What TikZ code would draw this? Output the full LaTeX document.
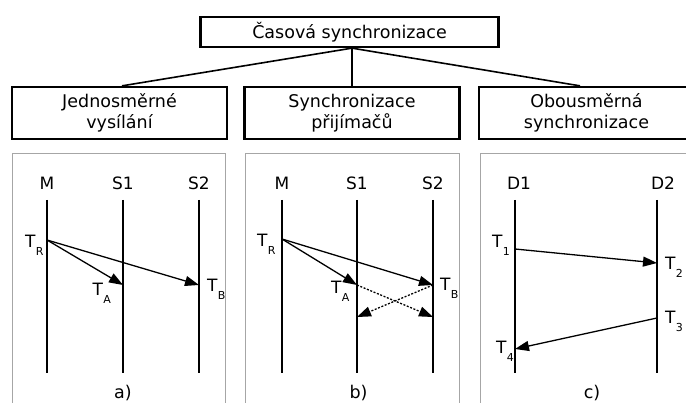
\documentclass[tikz,border=0pt]{standalone}
\usepackage{fontspec}
\setmainfont{DejaVu Sans}
\usetikzlibrary{arrows.meta,calc}
% time stamp: T with a low, small index
\newcommand\tstamp[1]{T\kern0.2pt\raisebox{-8pt}{\fontsize{11}{11}\selectfont #1}}

\begin{document}
\begin{tikzpicture}[x=1pt,y=-1pt,
  catbox/.style={draw, line width=2.3pt, minimum width=215pt, minimum height=52pt,
    inner sep=0pt, align=center, font=\fontsize{17.5}{21}\selectfont},
  rootbox/.style={catbox, minimum width=298pt, minimum height=30pt},
  tree/.style={line width=1.6pt},
  panel/.style={draw=black!35, line width=1pt},
  life/.style={line width=2pt},
  msg/.style={line width=1.3pt, -{Triangle[length=14pt,width=10pt]}},
  echo/.style={msg, dash pattern=on 2pt off 1.6pt},
  actor/.style={inner sep=0pt, font=\fontsize{17}{17}\selectfont},
  stamp/.style={inner sep=0pt, anchor=base west, font=\fontsize{17}{17}\selectfont},
  caption/.style={inner sep=0pt, font=\fontsize{17.5}{17.5}\selectfont}]

\useasboundingbox (0,0) rectangle (686,403);
\clip (0,0) rectangle (686,403);

% ---- classification tree
\node[rootbox] (root) at (349.5,32) {Časová synchronizace};
\node[catbox] (one)  at (119.5,113) {Jednosměrné\\vysílání};
\node[catbox] (rcv)  at (352,113)   {Synchronizace\\přijímačů};
\node[catbox] (two)  at (586.5,113) {Obousměrná\\synchronizace};
\coordinate (hub) at (root.south -| rcv.north);
\draw[tree] (hub) -- ([xshift=2.5pt]one.north);
\draw[tree] (hub) -- (rcv.north);
\draw[tree] (hub) -- ([xshift=-6.5pt]two.north);

% ---- panel frames
\draw[panel] (12,154) rectangle (225,420);
\draw[panel] (245,154) rectangle (459,420);
\draw[panel] (480,154) rectangle (700,420);

% ---- a) one-way broadcast
\foreach \n/\x/\t in {aM/47/M, aS1/123/S1, aS2/199/S2}{
  \coordinate (\n top) at (\x,200);
  \coordinate (\n bot) at (\x,373);
  \draw[life] (\n top) -- (\n bot);
  \node[actor] (\n lbl) at (\x,183) {\t};
}
\coordinate (aR) at (47,240);
\coordinate (aA) at (123,285);
\coordinate (aB) at (199,285);
\draw[msg] (aR) -- (aA);
\draw[msg] (aR) -- (aB);
\node[stamp] (aRl) at (25,248) {\tstamp{R}};
\node[stamp] (aAl) at (92.5,296) {\tstamp{A}};
\node[stamp] (aBl) at (207,292) {\tstamp{B}};
\node[caption] (capa) at (123,393) {a)};

% ---- b) receiver-receiver synchronization
\foreach \n/\x/\t in {bM/282/M, bS1/357/S1, bS2/433/S2}{
  \coordinate (\n top) at (\x,200);
  \coordinate (\n bot) at (\x,373);
  \draw[life] (\n top) -- (\n bot);
  \node[actor] (\n lbl) at (\x,183) {\t};
}
\coordinate (bR) at (282,239);
\coordinate (bA) at (357,285);
\coordinate (bB) at (433,285);
\coordinate (bAx) at (433,317);
\coordinate (bBx) at (357,317);
\draw[msg] (bR) -- (bA);
\draw[msg] (bR) -- (bB);
\draw[echo] (bA) -- (bAx);
\draw[echo] (bB) -- (bBx);
\node[stamp] (bRl) at (257,247) {\tstamp{R}};
\node[stamp] (bAl) at (331,294) {\tstamp{A}};
\node[stamp] (bBl) at (440,291) {\tstamp{B}};
\node[caption] (capb) at (358.5,393) {b)};

% ---- c) two-way synchronization
\foreach \n/\x/\lx/\t in {cD1/515/519/D1, cD2/657/663/D2}{
  \coordinate (\n top) at (\x,200);
  \coordinate (\n bot) at (\x,373);
  \draw[life] (\n top) -- (\n bot);
  \node[actor] (\n lbl) at (\lx,183) {\t};
}
\coordinate (c1) at (515,249);
\coordinate (c2) at (657,263);
\coordinate (c3) at (657,318);
\coordinate (c4) at (515,349);
\draw[msg] (c1) -- (c2);
\draw[msg] (c3) -- (c4);
\node[stamp] (c1l) at (492,248) {\tstamp{1}};
\node[stamp] (c2l) at (665,270) {\tstamp{2}};
\node[stamp] (c3l) at (665,324) {\tstamp{3}};
\node[stamp] (c4l) at (496,354) {\tstamp{4}};
\node[caption] (capc) at (592,393) {c)};
\end{tikzpicture}
\end{document}
